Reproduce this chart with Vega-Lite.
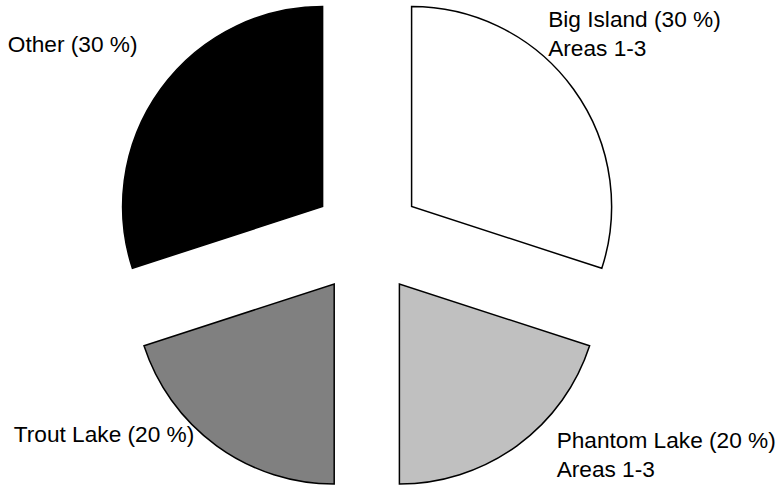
{
  "$schema": "https://vega.github.io/schema/vega-lite/v6.json",
  "width": 778,
  "height": 485,
  "autosize": {"type": "fit", "contains": "padding"},
  "padding": 0,
  "background": "white",
  "config": {"view": {"stroke": null}},
  "data": {
    "values": [
      {"name": "Big Island", "pct": 30, "label": "Big Island (30 %)\nAreas 1-3"},
      {"name": "Phantom Lake", "pct": 20, "label": "Phantom Lake (20 %)\nAreas 1-3"},
      {"name": "Trout Lake", "pct": 20, "label": "Trout Lake (20 %)"},
      {"name": "Other", "pct": 30, "label": "Other (30 %)"}
    ]
  },
  "transform": [
    {"stack": "pct", "groupby": [], "as": ["s", "e"]},
    {"calculate": "(datum.s + datum.e) / 2", "as": "mid"}
  ],
  "layer": [
    {
      "transform": [{"filter": "datum.name === 'Big Island'"}],
      "mark": {"type": "arc", "radius": 200, "stroke": "black", "strokeWidth": 1.5, "xOffset": 22.6, "yOffset": -34},
      "encoding": {
        "theta": {"field": "s", "type": "quantitative", "scale": {"domain": [0, 100]}},
        "theta2": {"field": "e"},
        "color": {"field": "name", "type": "nominal", "scale": {"domain": ["Big Island", "Phantom Lake", "Trout Lake", "Other"], "range": ["#ffffff", "#c0c0c0", "#808080", "#000000"]}, "legend": null}
      }
    },
    {
      "transform": [{"filter": "datum.name === 'Phantom Lake'"}],
      "mark": {"type": "arc", "radius": 200, "stroke": "black", "strokeWidth": 1.5, "xOffset": 10.4, "yOffset": 43.5},
      "encoding": {
        "theta": {"field": "s", "type": "quantitative", "scale": {"domain": [0, 100]}},
        "theta2": {"field": "e"},
        "color": {"field": "name", "type": "nominal", "legend": null}
      }
    },
    {
      "transform": [{"filter": "datum.name === 'Trout Lake'"}],
      "mark": {"type": "arc", "radius": 200, "stroke": "black", "strokeWidth": 1.5, "xOffset": -54.8, "yOffset": 43.5},
      "encoding": {
        "theta": {"field": "s", "type": "quantitative", "scale": {"domain": [0, 100]}},
        "theta2": {"field": "e"},
        "color": {"field": "name", "type": "nominal", "legend": null}
      }
    },
    {
      "transform": [{"filter": "datum.name === 'Other'"}],
      "mark": {"type": "arc", "radius": 200, "stroke": "black", "strokeWidth": 1.5, "xOffset": -66.4, "yOffset": -34},
      "encoding": {
        "theta": {"field": "s", "type": "quantitative", "scale": {"domain": [0, 100]}},
        "theta2": {"field": "e"},
        "color": {"field": "name", "type": "nominal", "legend": null}
      }
    },
    {
      "transform": [{"filter": "datum.name === 'Big Island'"}],
      "mark": {"type": "text", "radius": 210, "xOffset": 22.6, "yOffset": -34, "dx": -33.3, "dy": -55.8, "align": "left", "baseline": "alphabetic", "lineBreak": "\n", "font": "Liberation Sans", "fontSize": 22.67, "lineHeight": 29, "color": "black"},
      "encoding": {
        "theta": {"field": "mid", "type": "quantitative", "scale": {"domain": [0, 100]}},
        "text": {"field": "label"}
      }
    },
    {
      "transform": [{"filter": "datum.name === 'Phantom Lake'"}],
      "mark": {"type": "text", "radius": 210, "xOffset": 10.4, "yOffset": 43.5, "dx": 33.8, "dy": -5.9, "align": "left", "baseline": "alphabetic", "lineBreak": "\n", "font": "Liberation Sans", "fontSize": 22.67, "lineHeight": 29, "color": "black"},
      "encoding": {
        "theta": {"field": "mid", "type": "quantitative", "scale": {"domain": [0, 100]}},
        "text": {"field": "label"}
      }
    },
    {
      "transform": [{"filter": "datum.name === 'Trout Lake'"}],
      "mark": {"type": "text", "radius": 210, "xOffset": -54.8, "yOffset": 43.5, "dx": -16.5, "dy": -11.9, "align": "right", "baseline": "alphabetic", "lineBreak": "\n", "font": "Liberation Sans", "fontSize": 22.67, "lineHeight": 29, "color": "black"},
      "encoding": {
        "theta": {"field": "mid", "type": "quantitative", "scale": {"domain": [0, 100]}},
        "text": {"field": "label"}
      }
    },
    {
      "transform": [{"filter": "datum.name === 'Other'"}],
      "mark": {"type": "text", "radius": 210, "xOffset": -66.4, "yOffset": -34, "dx": -15.2, "dy": -30.9, "align": "right", "baseline": "alphabetic", "lineBreak": "\n", "font": "Liberation Sans", "fontSize": 22.67, "lineHeight": 29, "color": "black"},
      "encoding": {
        "theta": {"field": "mid", "type": "quantitative", "scale": {"domain": [0, 100]}},
        "text": {"field": "label"}
      }
    }
  ]
}
